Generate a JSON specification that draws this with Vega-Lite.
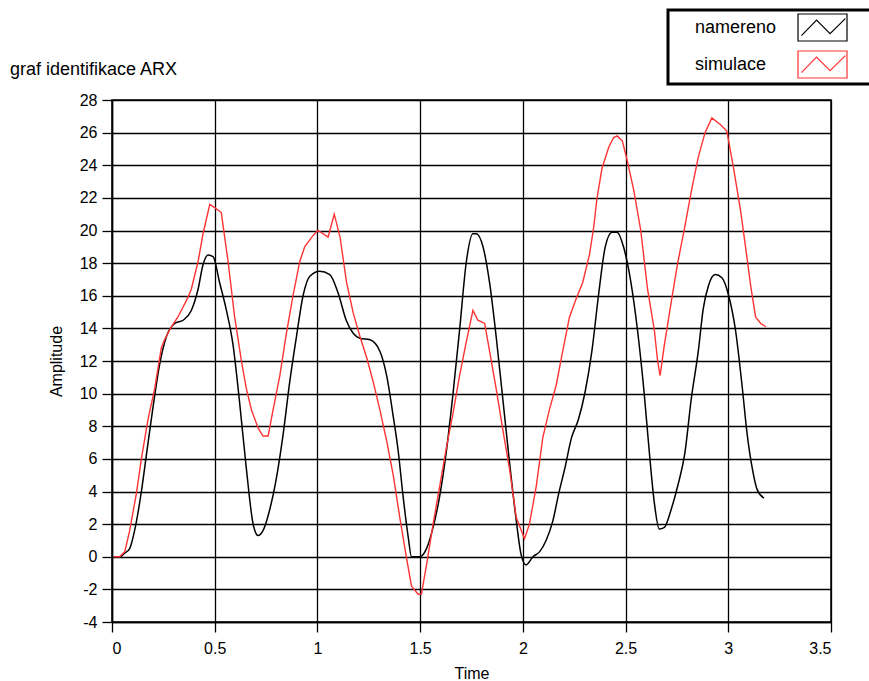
{
  "$schema": "https://vega.github.io/schema/vega-lite/v6.json",
  "width": 719,
  "height": 522,
  "autosize": {"type": "none"},
  "padding": {"left": 112, "top": 100, "right": 38, "bottom": 59},
  "background": "white",
  "title": {"text": "graf identifikace ARX", "anchor": "start", "frame": "group", "dx": -102, "offset": -84.5, "baseline": "alphabetic", "fontSize": 18, "fontWeight": "normal", "font": "Liberation Sans", "color": "black"},
  "datasets": {
    "namereno": [
      [0.01,0],[0.037,0],[0.06,0.2],[0.086,0.5],[0.11,1.6],[0.143,4],[0.167,6.2],[0.2,9.2],[0.232,11.8],[0.265,13.5],[0.305,14.3],[0.346,14.5],[0.386,15.1],[0.419,16.4],[0.443,17.9],[0.468,18.5],[0.492,18.4],[0.524,16.8],[0.557,15.1],[0.589,13],[0.62,9.6],[0.654,5.4],[0.687,2],[0.711,1.3],[0.735,1.6],[0.768,2.9],[0.8,4.8],[0.833,7.5],[0.865,10.7],[0.898,13.5],[0.93,16],[0.963,17.2],[1.011,17.5],[1.06,17.3],[1.1,16.2],[1.14,14.5],[1.174,13.7],[1.206,13.4],[1.256,13.3],[1.304,12.6],[1.337,11.1],[1.369,8.6],[1.393,6.5],[1.417,3.7],[1.442,1.2],[1.458,0],[1.498,0],[1.531,0.5],[1.563,1.8],[1.595,3.7],[1.628,6.5],[1.66,10],[1.692,13.9],[1.725,18.1],[1.757,19.8],[1.773,19.8],[1.806,19],[1.838,16.8],[1.87,13.5],[1.903,9.6],[1.935,5.8],[1.968,2.2],[1.992,0.1],[2.016,-0.5],[2.049,0],[2.081,0.3],[2.113,1],[2.146,2.2],[2.175,3.9],[2.204,5.4],[2.237,7.3],[2.27,8.4],[2.303,10.1],[2.336,12.6],[2.368,16],[2.401,19],[2.434,19.9],[2.459,19.9],[2.49,19],[2.525,16.9],[2.558,13.9],[2.59,10.1],[2.615,6.5],[2.64,3.3],[2.664,1.7],[2.689,1.8],[2.722,2.9],[2.755,4.4],[2.788,6.3],[2.82,9.7],[2.854,12.6],[2.878,15.2],[2.903,16.6],[2.936,17.3],[2.969,17.1],[3.002,16],[3.035,13.9],[3.067,10.5],[3.092,7.5],[3.117,5.4],[3.141,4.1],[3.174,3.6]
    ],
    "simulace": [
      [0.01,0],[0.037,0],[0.062,0.3],[0.086,1.6],[0.119,3.9],[0.143,6],[0.175,8.4],[0.208,10.3],[0.24,12.8],[0.256,13.3],[0.289,14.1],[0.321,14.7],[0.37,15.9],[0.386,16.4],[0.419,18.1],[0.443,19.8],[0.476,21.6],[0.5,21.4],[0.532,21.1],[0.565,18.1],[0.597,14.7],[0.63,12],[0.654,10.3],[0.679,9],[0.711,7.9],[0.735,7.4],[0.76,7.4],[0.784,9],[0.817,11.1],[0.849,13.7],[0.881,16],[0.914,18.1],[0.938,19],[0.979,19.7],[1.003,20],[1.052,19.6],[1.082,21],[1.11,19.6],[1.142,16.8],[1.175,14.9],[1.207,13.5],[1.24,12.2],[1.272,10.7],[1.304,9],[1.337,7.1],[1.369,5],[1.401,2.4],[1.434,-0.1],[1.458,-1.8],[1.49,-2.3],[1.506,-2.3],[1.531,-0.5],[1.563,2],[1.595,4.3],[1.628,6.7],[1.66,8.8],[1.692,11.1],[1.725,13.2],[1.757,15.1],[1.781,14.5],[1.814,14.3],[1.838,12.6],[1.87,10.3],[1.903,7.75],[1.935,5.4],[1.968,2.4],[2.008,1.1],[2.032,2],[2.065,4.3],[2.097,7.3],[2.129,9],[2.162,10.5],[2.194,12.6],[2.227,14.7],[2.259,15.8],[2.291,16.8],[2.324,18.5],[2.345,20.2],[2.36,21.9],[2.385,23.8],[2.418,25.1],[2.442,25.7],[2.459,25.8],[2.484,25.5],[2.508,24.3],[2.541,22.4],[2.574,20],[2.607,16.4],[2.64,13.9],[2.656,12],[2.668,11.1],[2.689,13],[2.722,15.6],[2.755,18.1],[2.788,20.2],[2.82,22.4],[2.854,24.5],[2.887,26],[2.92,26.9],[2.961,26.5],[2.993,26.1],[3.026,23.8],[3.059,21.3],[3.084,19],[3.109,16.6],[3.133,14.7],[3.158,14.3],[3.183,14.1]
    ]
  },
  "layer": [
    {
      "data": {"name": "namereno"},
      "transform": [{"calculate": "datum[0]", "as": "t"}, {"calculate": "datum[1]", "as": "v"}, {"calculate": "'namereno'", "as": "s"}],
      "mark": {"type": "line", "strokeWidth": 1.5, "interpolate": "monotone"},
      "encoding": {
        "x": {"field": "t", "type": "quantitative"},
        "y": {"field": "v", "type": "quantitative"},
        "color": {"field": "s", "type": "nominal"}
      }
    },
    {
      "data": {"name": "simulace"},
      "transform": [{"calculate": "datum[0]", "as": "t"}, {"calculate": "datum[1]", "as": "v"}, {"calculate": "'simulace'", "as": "s"}],
      "mark": {"type": "line", "strokeWidth": 1.4},
      "encoding": {
        "x": {"field": "t", "type": "quantitative"},
        "y": {"field": "v", "type": "quantitative"},
        "color": {"field": "s", "type": "nominal"}
      }
    }
  ],
  "resolve": {"scale": {"color": "shared"}},
  "encoding": {
    "x": {"field": "t", "type": "quantitative", "scale": {"domain": [0, 3.5], "nice": false, "zero": false},
      "axis": {"title": "Time", "values": [0, 0.5, 1, 1.5, 2, 2.5, 3, 3.5], "format": "~g", "labelPadding": 8, "titleX": 359.5, "titleY": 51, "titleBaseline": "middle"}},
    "y": {"field": "v", "type": "quantitative", "scale": {"domain": [-4, 28], "nice": false, "zero": false},
      "axis": {"title": "Amplitude", "values": [-4, -2, 0, 2, 4, 6, 8, 10, 12, 14, 16, 18, 20, 22, 24, 26, 28], "format": "~g", "labelExpr": "replace(datum.label, '\u2212', '-')", "labelPadding": 5, "titleX": -56, "titleY": 261, "titleAngle": -90, "titleAlign": "center", "titleBaseline": "middle"}},
    "color": {"field": "s", "type": "nominal", "scale": {"domain": ["namereno", "simulace"], "range": ["black", "#ff3333"]},
      "legend": {"orient": "none", "legendX": 556, "legendY": -90, "title": null, "padding": 3, "strokeColor": "black", "fillColor": "white", "rowPadding": 4,
        "symbolType": "M-1.815,-1H1.815V1H-1.815Z M-1.56,0.6L-0.44,-0.545L0.56,0.455L1.69,-0.655 M4,0", "symbolSize": 729, "symbolStrokeWidth": 1.2, "symbolOffset": 137, "labelOffset": -142,
        "labelFontSize": 18, "labelFont": "Liberation Sans", "labelColor": "black", "labelLimit": 200,
        "encode": {"legend": {"update": {"strokeWidth": {"value": 3}}}}}}
  },
  "config": {
    "view": {"stroke": "black", "strokeWidth": 1.5},
    "axis": {"grid": true, "gridColor": "black", "gridOpacity": 1, "gridWidth": 1.3, "domainColor": "black", "domainWidth": 1.5, "tickColor": "black", "tickWidth": 1.3, "tickSize": 10, "labelFont": "Liberation Sans", "labelFontSize": 16, "labelColor": "black", "titleFont": "Liberation Sans", "titleFontSize": 16, "titleFontWeight": "normal", "titleColor": "black"}
  }
}
